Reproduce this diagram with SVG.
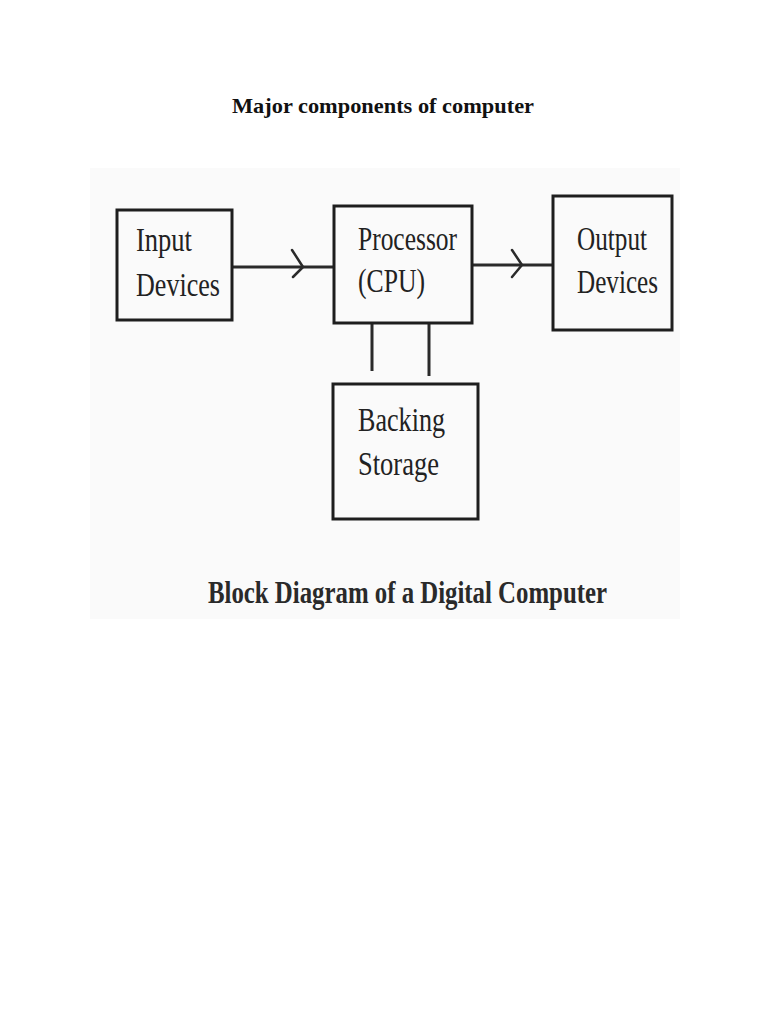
<svg xmlns="http://www.w3.org/2000/svg" width="768" height="1024" viewBox="0 0 768 1024">
<style>
.box{fill:none;stroke:#1e1e1e;stroke-width:3}
.lbl{font-family:"Liberation Serif","Times New Roman",serif;font-size:34px;fill:#222}
.wire{fill:none;stroke:#2a2a2a;stroke-width:3}
.chev{fill:none;stroke:#2a2a2a;stroke-width:2.5;stroke-linecap:round;stroke-linejoin:round}
</style>
<rect width="768" height="1024" fill="#ffffff"/>
<rect x="90" y="168" width="590" height="451" fill="#fafafa"/>
<text x="232" y="113" font-family="Liberation Serif,'Times New Roman',serif" font-size="21" font-weight="bold" fill="#111" textLength="302" lengthAdjust="spacingAndGlyphs">Major components of computer</text>
<g id="connectors">
<line class="wire" x1="232" y1="267" x2="334" y2="267"/>
<polyline class="chev" points="292,250 303,267 293,277"/>
<line class="wire" x1="472" y1="265" x2="553" y2="265"/>
<polyline class="chev" points="512,250 522,265 512,277"/>
<line class="wire" x1="372" y1="323" x2="372" y2="371"/>
<line class="wire" x1="429" y1="323" x2="429" y2="376"/>
</g>
<g id="input">
<rect class="box" x="117" y="210" width="115" height="110"/>
<text class="lbl" x="136" y="251" textLength="56" lengthAdjust="spacingAndGlyphs">Input</text>
<text class="lbl" x="136" y="296" textLength="84" lengthAdjust="spacingAndGlyphs">Devices</text>
</g>
<g id="processor">
<rect class="box" x="334" y="206" width="138" height="117"/>
<text class="lbl" x="358" y="250" textLength="99" lengthAdjust="spacingAndGlyphs">Processor</text>
<text class="lbl" x="358" y="292" textLength="67" lengthAdjust="spacingAndGlyphs">(CPU)</text>
</g>
<g id="output">
<rect class="box" x="553" y="196" width="119" height="134"/>
<text class="lbl" x="577" y="250" textLength="70" lengthAdjust="spacingAndGlyphs">Output</text>
<text class="lbl" x="577" y="293" textLength="81" lengthAdjust="spacingAndGlyphs">Devices</text>
</g>
<g id="storage">
<rect class="box" x="333" y="384" width="145" height="135"/>
<text class="lbl" x="358" y="431" textLength="87" lengthAdjust="spacingAndGlyphs">Backing</text>
<text class="lbl" x="358" y="475" textLength="81" lengthAdjust="spacingAndGlyphs">Storage</text>
</g>
<text x="208" y="603" font-family="Liberation Serif,'Times New Roman',serif" font-size="31" font-weight="bold" fill="#2a2a2a" textLength="399" lengthAdjust="spacingAndGlyphs">Block Diagram of a Digital Computer</text>
</svg>
